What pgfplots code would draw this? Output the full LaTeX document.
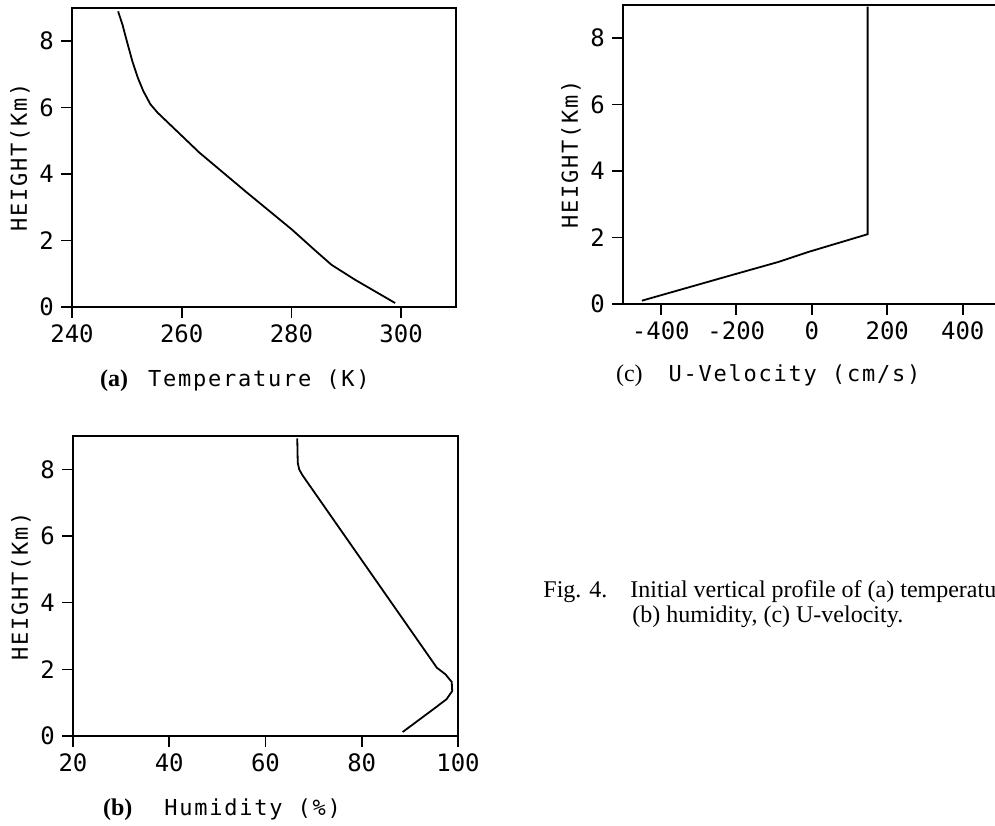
\documentclass[border=0pt]{standalone}
\usepackage{fontspec}
\setmainfont{Liberation Serif}
\newfontfamily\plotfont[LetterSpace=8]{DejaVu Sans Mono}
\newfontfamily\tickfont{DejaVu Sans Mono}
\usepackage{pgfplots}
\pgfplotsset{compat=1.18}

\pgfplotsset{
  profile/.style={
    scale only axis,
    ymin=0, ymax=9,
    ytick={0,2,4,6,8},
    axis line style={line width=0.9pt},
    tick style={line width=0.8pt, black},
    tick align=outside,
    major tick length=5.5pt,
    xtick pos=lower, ytick pos=left,
    /pgf/number format/assume math mode=true,
    tick label style={font=\fontsize{12}{14}\tickfont},
    ylabel={HEIGHT(Km)},
    ylabel style={font=\fontsize{11}{13}\plotfont,
      at={(axis description cs:0,0.5)}, anchor=center, yshift=26pt},
    xlabel style={at={(axis description cs:0,0)}, anchor=base west},
  },
  curve/.style={black, line width=0.9pt, no markers},
}

\begin{document}
\begin{tikzpicture}
\useasboundingbox (0,0) rectangle (497.5pt,412.5pt);
\clip (0,0) rectangle (497.5pt,412.5pt);

% (a) temperature
\begin{axis}[profile,
  at={(36pt,259pt)}, anchor=south west,
  width=192pt, height=149.5pt,
  xmin=240, xmax=310, xtick={240,260,280,300},
  xlabel={\fontsize{12}{14}\selectfont\textbf{(a)}\hspace{10pt}{\fontsize{11}{13}\plotfont Temperature (K)}},
  xlabel style={xshift=10.5pt, yshift=-40pt},
]
\addplot[curve] coordinates {
  (298.9,0.12) (291.6,0.82) (287.3,1.27) (284.0,1.75) (280.1,2.33)
  (271.7,3.47) (263.2,4.65) (255.6,5.85) (254.3,6.1) (253.0,6.5)
  (252.0,6.9) (251.0,7.4) (250.0,8.0) (249.2,8.5) (248.4,8.9)
};
\end{axis}

% (c) u-velocity
\begin{axis}[profile,
  at={(311.5pt,260.5pt)}, anchor=south west,
  width=188.75pt, height=149.5pt,
  xmin=-500, xmax=500, xtick={-400,-200,0,200,400},
  xlabel={\fontsize{12}{14}\selectfont(c)\hspace{13pt}{\fontsize{11}{13}\plotfont U-Velocity (cm/s)}},
  xlabel style={xshift=-7pt, yshift=-39pt},
]
\addplot[curve] coordinates {
  (-450,0.1) (-212,0.87) (-87,1.27) (-8,1.57) (148,2.1) (148,8.95)
};
\end{axis}

% (b) humidity
\begin{axis}[profile,
  at={(36.5pt,44.5pt)}, anchor=south west,
  width=192.5pt, height=150pt,
  xmin=20, xmax=100, xtick={20,40,60,80,100},
  xlabel={\fontsize{12}{14}\selectfont\textbf{(b)}\hspace{16pt}{\fontsize{11}{13}\plotfont Humidity (\%)}},
  xlabel style={xshift=11.5pt, yshift=-39.5pt},
]
\addplot[curve] coordinates {
  (88.5,0.12) (94.1,0.72) (97.6,1.1) (98.8,1.35) (98.7,1.62)
  (97.4,1.85) (95.6,2.05) (67.7,7.82) (67.0,8.0) (66.7,8.2) (66.6,8.93)
};
\end{axis}

% caption (cut at the right edge, as in the original scan)
\node[anchor=base west, inner sep=0pt, font=\fontsize{12}{14}\selectfont]
  at (271.5pt,114pt) {Fig. 4.};
\node[anchor=base west, inner sep=0pt, font=\fontsize{12}{14}\selectfont]
  at (315pt,114pt) {Initial vertical profile of (a) temperature,};
\node[anchor=base west, inner sep=0pt, font=\fontsize{12}{14}\selectfont]
  at (316pt,101.5pt) {(b) humidity, (c) U-velocity.};
\end{tikzpicture}
\end{document}
